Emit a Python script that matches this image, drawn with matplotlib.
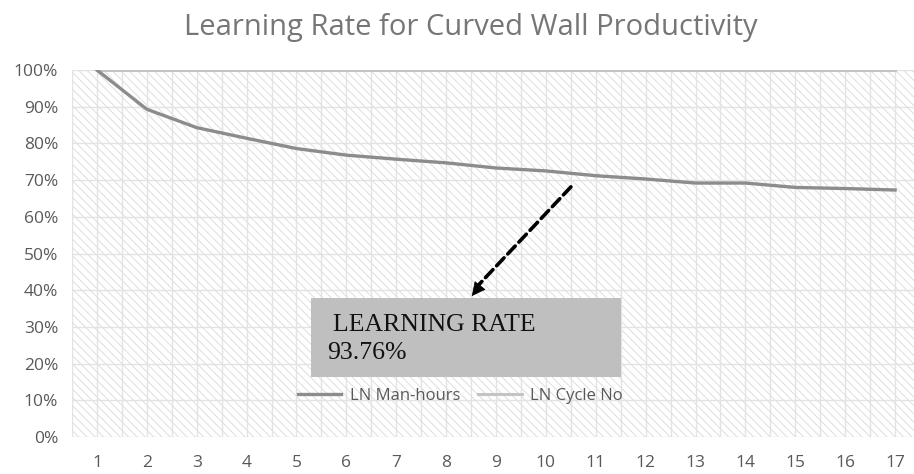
import matplotlib.pyplot as plt
from matplotlib.patches import Rectangle

cycles = list(range(1, 18))
man_hours = [1.000, 0.893, 0.843, 0.814, 0.786, 0.768, 0.757, 0.747, 0.733, 0.725,
             0.712, 0.703, 0.692, 0.692, 0.680, 0.677, 0.673]
cycle_no = [1.0] * 17
yticks = [i / 10 for i in range(11)]
ytick_labels = ['%d%%' % (i * 10) for i in range(11)]
note_title = 'LEARNING RATE'
note_value = '93.76%'

plt.rcParams['hatch.color'] = '#d9d9d9'
plt.rcParams['hatch.linewidth'] = 0.6

fig = plt.figure(figsize=(9.14, 4.74), dpi=100)
ax = fig.add_axes([72 / 914, 1 - 437 / 474, 848 / 914, 367 / 474])
ax.set_xlim(0.5, 17.5)
ax.set_ylim(0, 1)

# hatched plot area
ax.add_patch(Rectangle((0, 0), 1, 1, transform=ax.transAxes, facecolor='white',
                       hatch='\\\\\\\\', edgecolor='#d9d9d9', linewidth=0, zorder=0))

for v in yticks:
    ax.axhline(v, color='#e3e3e3', linewidth=1, zorder=1)
for k in range(1, 36):
    ax.axvline(k / 2, color='#e3e3e3', linewidth=1, zorder=1)

ax.plot(cycles, cycle_no, color='#c4c4c4', linewidth=2.2, label='LN Cycle No', zorder=3)
ax.plot(cycles, man_hours, color='#8c8c8c', linewidth=2.4, label='LN Man-hours', zorder=4)

handles, labels = ax.get_legend_handles_labels()
leg = ax.legend(handles[::-1], labels[::-1], loc='center', bbox_to_anchor=(0.458, 0.112),
                ncol=2, frameon=False, handlelength=2.6, columnspacing=1.1, handletextpad=0.5,
                prop={'family': 'Open Sans', 'size': 12})
for t in leg.get_texts():
    t.set_color('#595959')

# annotation box
ax.add_patch(Rectangle((5.29, 0.163), 6.21, 0.216, facecolor='#bfbfbf', edgecolor='none', zorder=5))
ax.text(5.73, 0.305, note_title, family='Liberation Serif', fontsize=18.5, color='#111111',
        va='center', ha='left', zorder=6)
ax.text(5.61, 0.230, note_value, family='Liberation Serif', fontsize=18.5, color='#111111',
        va='center', ha='left', zorder=6)

ax.annotate('', xy=(8.62, 0.41), xytext=(10.54, 0.687),
            arrowprops=dict(arrowstyle='-', linestyle=(0, (3, 1.5)), linewidth=2.6, color='black'),
            zorder=6)
ax.annotate('', xy=(8.515, 0.384), xytext=(8.75, 0.425),
            arrowprops=dict(arrowstyle='-|>,head_length=0.9,head_width=0.45', linewidth=0.5,
                            color='black', shrinkA=0, shrinkB=0), zorder=6)

ax.set_xticks(cycles)
ax.set_yticks(yticks)
ax.set_yticklabels(ytick_labels)
ax.tick_params(length=0, labelsize=12.5, colors='#595959', pad=10)
ax.tick_params(axis='x', pad=13)
for lab in ax.get_xticklabels() + ax.get_yticklabels():
    lab.set_family('Open Sans')
for s in ax.spines.values():
    s.set_visible(False)

fig.text(471 / 914, 1 - 28 / 474, 'Learning Rate for Curved Wall Productivity', ha='center',
         va='center', family='Open Sans', fontsize=21, color='#767676')

fig.savefig('out.png', dpi=100)
